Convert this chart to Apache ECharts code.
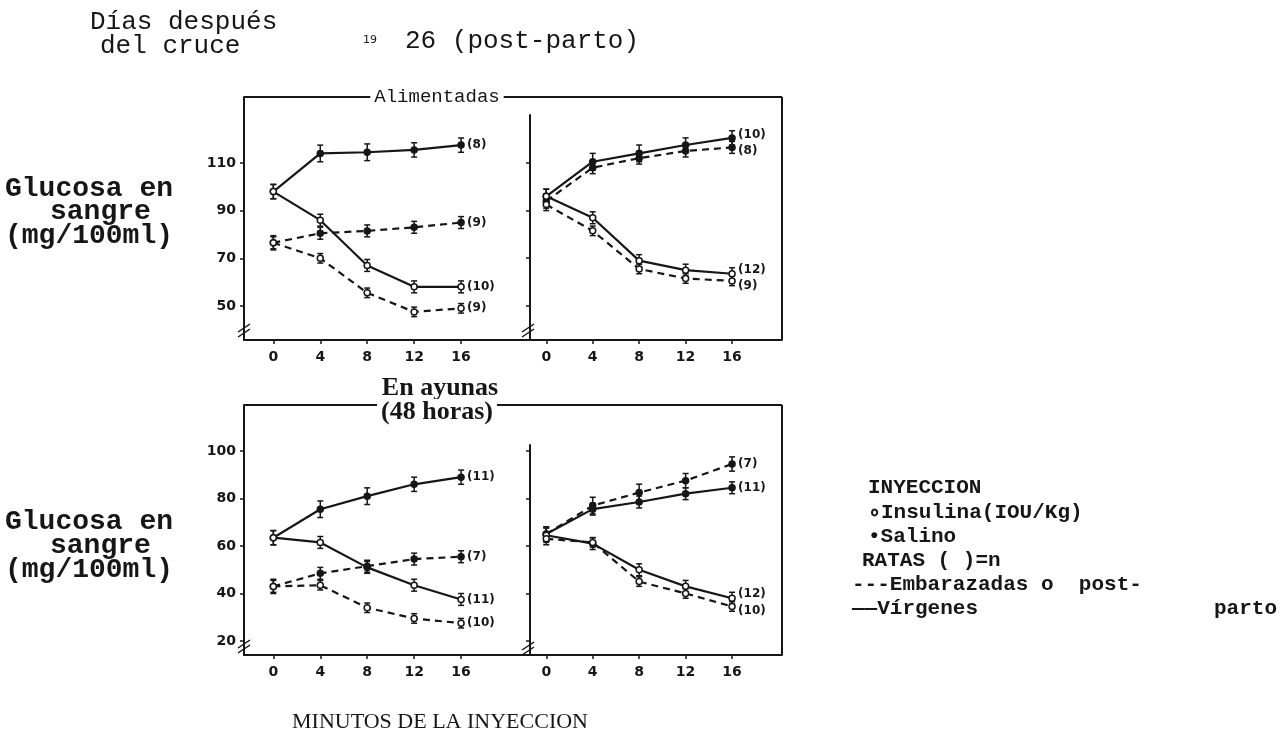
<!DOCTYPE html>
<html>
<head>
<meta charset="utf-8">
<script src="https://cdn.jsdelivr.net/npm/echarts@6/dist/echarts.min.js"></script>
<style>
  html, body { margin: 0; padding: 0; background: #fff; }
  #chart { width: 1281px; height: 740px; }
</style>
</head>
<body>
<div id="chart"></div>
<script>
// minutes after the injection
const minutes = [0, 4, 8, 12, 16]
const xTicks = [0, 4, 8, 12, 16]
const yTicksFed = [50, 70, 90, 110]
const yTicksFast = [20, 40, 60, 80, 100]

// Alimentadas, dia 19
const fedD19VirgSal = [98, 114, 114.5, 115.5, 117.5]
const fedD19VirgIns = [98, 86, 67, 58, 58]
const fedD19PregSal = [76.5, 80.5, 81.5, 83, 85]
const fedD19PregIns = [76.5, 70, 55.5, 47.5, 49]
// Alimentadas, dia 26 (post-parto)
const fedD26VirgSal = [96, 110.5, 114, 117.5, 120.5]
const fedD26PregSal = [94, 108, 112, 115, 116.5]
const fedD26VirgIns = [96, 87, 69, 65, 63.5]
const fedD26PregIns = [92.5, 81.5, 65.5, 61.5, 60.5]
// En ayunas, dia 19
const fastD19VirgSal = [63.5, 75.5, 81, 86, 89]
const fastD19VirgIns = [63.5, 61.5, 51, 43.5, 37.5]
const fastD19PregSal = [43, 48.5, 51.5, 54.5, 55.5]
const fastD19PregIns = [43, 43.5, 34, 29.5, 27.5]
// En ayunas, dia 26 (post-parto)
const fastD26PregSal = [65, 77, 82.5, 87.5, 94.5]
const fastD26VirgSal = [65, 75.5, 78.5, 82, 84.5]
const fastD26VirgIns = [64.5, 61, 50, 43, 38]
const fastD26PregIns = [63, 61.5, 45, 40, 34.5]

// error bars (+/-)
const errWide = [3, 3.5, 3.5, 3, 3]
const errMid = [3, 2.5, 2.5, 2.5, 2.5]
const errSmall = [2.5, 2, 2, 2, 2]

const ink = '#161616'
const mono = 'Liberation Mono'
const sans = 'DejaVu Sans'

const chart = echarts.init(document.getElementById('chart'))

// panel layout: top-left, top-right, bottom-left, bottom-right
const panels = [
  { left: 244, right: 773, top: 97, bottom: 400, xMin: -2.5, xMax: 20, yMin: 35.7, yMax: 137.7, yTicks: yTicksFed, labels: true },
  { left: 530, right: 499, top: 115, bottom: 400, xMin: -1.4, xMax: 20.3, yMin: 35.7, yMax: 130.1, yTicks: yTicksFed, labels: false },
  { left: 244, right: 773, top: 405, bottom: 85, xMin: -2.5, xMax: 20, yMin: 14.1, yMax: 119.4, yTicks: yTicksFast, labels: true },
  { left: 530, right: 499, top: 445, bottom: 85, xMin: -1.4, xMax: 20.3, yMin: 14.1, yMax: 102.5, yTicks: yTicksFast, labels: false }
]

const lines = [
  { panel: 0, values: fedD19VirgSal, errors: errWide, preg: false, ins: false, n: '(8)' },
  { panel: 0, values: fedD19VirgIns, errors: errMid, preg: false, ins: true, n: '(10)' },
  { panel: 0, values: fedD19PregSal, errors: errMid, preg: true, ins: false, n: '(9)' },
  { panel: 0, values: fedD19PregIns, errors: errSmall, preg: true, ins: true, n: '(9)' },
  { panel: 1, values: fedD26VirgSal, errors: errWide, preg: false, ins: false, n: '(10)', dy: -3 },
  { panel: 1, values: fedD26PregSal, errors: errMid, preg: true, ins: false, n: '(8)', dy: 3 },
  { panel: 1, values: fedD26VirgIns, errors: errMid, preg: false, ins: true, n: '(12)', dy: -4 },
  { panel: 1, values: fedD26PregIns, errors: errSmall, preg: true, ins: true, n: '(9)', dy: 5 },
  { panel: 2, values: fastD19VirgSal, errors: errWide, preg: false, ins: false, n: '(11)' },
  { panel: 2, values: fastD19VirgIns, errors: errMid, preg: false, ins: true, n: '(11)' },
  { panel: 2, values: fastD19PregSal, errors: errMid, preg: true, ins: false, n: '(7)' },
  { panel: 2, values: fastD19PregIns, errors: errSmall, preg: true, ins: true, n: '(10)' },
  { panel: 3, values: fastD26PregSal, errors: errWide, preg: true, ins: false, n: '(7)' },
  { panel: 3, values: fastD26VirgSal, errors: errMid, preg: false, ins: false, n: '(11)' },
  { panel: 3, values: fastD26VirgIns, errors: errMid, preg: false, ins: true, n: '(12)', dy: -4 },
  { panel: 3, values: fastD26PregIns, errors: errSmall, preg: true, ins: true, n: '(10)', dy: 4 }
]

const lineSeries = (d) => ({
  type: 'line',
  xAxisIndex: d.panel,
  yAxisIndex: d.panel,
  data: minutes.map((m, i) => [m, d.values[i]]),
  symbol: 'circle',
  symbolSize: 6,
  lineStyle: { color: ink, width: 2.2, type: d.preg ? [7, 5] : 'solid' },
  itemStyle: { color: d.ins ? '#fff' : ink, borderColor: ink, borderWidth: 1.5 },
  endLabel: {
    show: true, formatter: d.n, color: ink, fontSize: 12, fontFamily: sans,
    fontWeight: 'bold', distance: 6, offset: [0, d.dy || 0]
  },
  z: 4,
  silent: true
})

const errorSeries = (d) => ({
  type: 'custom',
  xAxisIndex: d.panel,
  yAxisIndex: d.panel,
  data: minutes.map((m, i) => [m, d.values[i] - d.errors[i], d.values[i] + d.errors[i]]),
  renderItem: (params, api) => {
    const lo = api.coord([api.value(0), api.value(1)])
    const hi = api.coord([api.value(0), api.value(2)])
    const style = { stroke: ink, lineWidth: 1.5 }
    return {
      type: 'group',
      children: [
        { type: 'line', shape: { x1: lo[0], y1: lo[1], x2: hi[0], y2: hi[1] }, style },
        { type: 'line', shape: { x1: lo[0] - 3, y1: lo[1], x2: lo[0] + 3, y2: lo[1] }, style },
        { type: 'line', shape: { x1: hi[0] - 3, y1: hi[1], x2: hi[0] + 3, y2: hi[1] }, style }
      ]
    }
  },
  z: 3,
  silent: true
})

const txt = (x, y, text, size, opts = {}) => ({
  type: 'text',
  x,
  y,
  style: {
    text,
    fill: ink,
    font: `${opts.weight || 'bold'} ${size}px "${opts.family || mono}"`,
    align: opts.align || 'left',
    verticalAlign: 'middle',
    backgroundColor: opts.bg,
    padding: opts.bg ? [0, 4] : 0
  },
  z: 10
})

const seg = (x1, y1, x2, y2, w = 2) => ({
  type: 'line',
  shape: { x1, y1, x2, y2 },
  style: { stroke: ink, lineWidth: w },
  z: 5
})

const breakMark = (x, y) => [seg(x - 6, y + 4, x + 6, y - 4, 1.5), seg(x - 6, y + 9, x + 6, y + 1, 1.5)]

chart.setOption({
  animation: false,
  backgroundColor: '#fff',
  grid: panels.map((p) => ({ left: p.left, right: p.right, top: p.top, bottom: p.bottom })),
  xAxis: panels.map((p, i) => ({
    type: 'value',
    gridIndex: i,
    min: p.xMin,
    max: p.xMax,
    axisLine: { show: true, onZero: false, lineStyle: { color: ink, width: 2 } },
    axisTick: { show: true, customValues: xTicks, length: 4, lineStyle: { color: ink, width: 1.5 } },
    axisLabel: { customValues: xTicks, color: ink, fontSize: 14, fontWeight: 'bold', fontFamily: sans, margin: 10 },
    splitLine: { show: false }
  })),
  yAxis: panels.map((p, i) => ({
    type: 'value',
    gridIndex: i,
    min: p.yMin,
    max: p.yMax,
    axisLine: { show: true, onZero: false, lineStyle: { color: ink, width: 2 } },
    axisTick: { show: true, customValues: p.yTicks, length: 4, lineStyle: { color: ink, width: 1.5 } },
    axisLabel: { show: p.labels, customValues: p.yTicks, color: ink, fontSize: 14, fontWeight: 'bold', fontFamily: sans, margin: 8 },
    splitLine: { show: false }
  })),
  series: [...lines.map(errorSeries), ...lines.map(lineSeries)],
  graphic: [
    // frames
    seg(244, 97, 782, 97), seg(782, 97, 782, 340),
    seg(244, 405, 782, 405), seg(782, 405, 782, 655),
    seg(508, 340, 530, 340), seg(508, 655, 530, 655),
    ...breakMark(244, 328), ...breakMark(528, 328),
    ...breakMark(244, 644), ...breakMark(528, 646),
    // headings
    txt(90, 22, 'Días después', 26, { weight: 'normal' }),
    txt(100, 46, 'del cruce', 26, { weight: 'normal' }),
    txt(363, 40, '19', 11, { weight: 'normal', family: sans }),
    txt(405, 41, '26 (post-parto)', 26, { weight: 'normal' }),
    txt(437, 97, 'Alimentadas', 19, { weight: 'normal', align: 'center', bg: '#fff' }),
    txt(440, 388, 'En ayunas', 26, { align: 'center', family: 'Liberation Serif' }),
    txt(437, 412, '(48 horas)', 26, { align: 'center', family: 'Liberation Serif', bg: '#fff' }),
    txt(440, 722, 'MINUTOS DE LA INYECCION', 22, { weight: 'normal', align: 'center', family: 'Liberation Serif' }),
    // y titles
    txt(5, 189, 'Glucosa en', 28),
    txt(50, 212, 'sangre', 28),
    txt(5, 236, '(mg/100ml)', 28),
    txt(5, 522, 'Glucosa en', 28),
    txt(50, 546, 'sangre', 28),
    txt(5, 570, '(mg/100ml)', 28),
    // legend
    txt(868, 488, 'INYECCION', 21),
    txt(868, 513, '∘Insulina(IOU/Kg)', 21),
    txt(868, 537, '•Salino', 21),
    txt(862, 561, 'RATAS ( )=n', 21),
    txt(852, 585, '---Embarazadas o  post-', 21),
    txt(852, 609, '——Vírgenes', 21),
    txt(1214, 609, 'parto', 21)
  ]
})
</script>
</body>
</html>
